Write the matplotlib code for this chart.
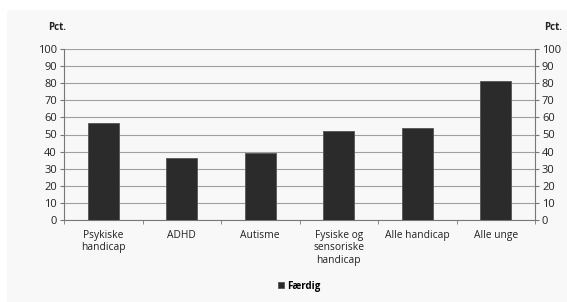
import matplotlib
matplotlib.use("Agg")
import matplotlib.pyplot as plt
from matplotlib.patches import Rectangle
import numpy as np

categories = ["Psykiske\nhandicap", "ADHD", "Autisme", "Fysiske og\nsensoriske\nhandicap", "Alle handicap", "Alle unge"]
faerdig = [57, 36, 39, 52, 54, 81]
yticks = list(range(0, 101, 10))

plt.rcParams['font.family'] = ['Open Sans', 'DejaVu Sans']

fig = plt.figure(figsize=(5.67, 3.02), dpi=100, facecolor='white')
fig.patches.append(Rectangle((7/567, 0), 1, 1 - 10/302, transform=fig.transFigure,
                             facecolor='#f8f8f8', edgecolor='none', zorder=-10))
ax = fig.add_axes([64/567, 1 - 220/302, (535-64)/567, (220-49)/302])
ax.set_facecolor('#f8f8f8')

x = np.arange(len(categories))
ax.bar(x, faerdig, width=0.4, color='#2b2b2b', edgecolor='#555555', linewidth=0.6, zorder=3, label='Færdig')
ax.set_xlim(-0.5, len(categories) - 0.5)
ax.set_ylim(0, 100)
ax.set_yticks(yticks)
ax.yaxis.grid(True, color='#a0a0a0', linewidth=0.8, zorder=0)
ax.set_xticks(x)
ax.set_xticklabels(categories, fontsize=7.4, color='#222222', linespacing=1.2)
ax.tick_params(axis='x', length=0, pad=7)
ax.set_xticks(np.arange(-0.5, len(categories), 1), minor=True)
ax.tick_params(axis='x', which='minor', length=3, color='#777777', direction='out')
ax.tick_params(axis='y', labelsize=8, length=3, color='#777777', labelcolor='#222222',
               left=True, right=True, labelleft=True, labelright=True, pad=2)
ax.spines['top'].set_visible(False)
for s in ['left', 'right', 'bottom']:
    ax.spines[s].set_color('#777777')
    ax.spines[s].set_linewidth(0.8)

fig.text(57/567, 1 - 28/302, "Pct.", fontsize=7, fontweight='bold', ha='center', va='center', color='#222222')
fig.text(553/567, 1 - 28/302, "Pct.", fontsize=7, fontweight='bold', ha='center', va='center', color='#222222')

leg = ax.legend(loc='center', bbox_to_anchor=(299/567, 1 - 286/302), bbox_transform=fig.transFigure,
                frameon=False, fontsize=7, handlelength=0.6, handleheight=0.6, handletextpad=0.3)
for t in leg.get_texts():
    t.set_fontweight('bold')

fig.savefig("out.png", dpi=100, facecolor=fig.get_facecolor())
